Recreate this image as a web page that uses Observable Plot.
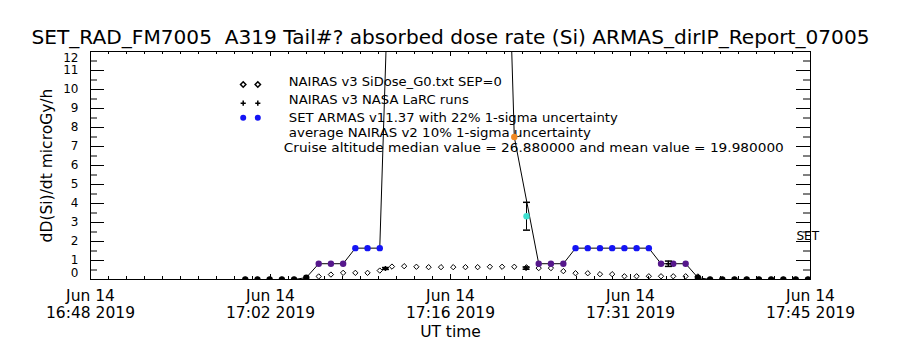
<!DOCTYPE html>
<html><head><meta charset="utf-8">
<script src="https://cdn.jsdelivr.net/npm/d3@7"></script>
<script src="https://cdn.jsdelivr.net/npm/@observablehq/plot@0.6"></script>
<style>
body{margin:0;background:#fff;}
#chart{width:900px;height:350px;}
</style></head><body><div id="chart"></div>
<script>
// ---------- data ----------
const day = "2019-06-14";
const titleText = "SET_RAD_FM7005  A319 Tail#? absorbed dose rate (Si) ARMAS_dirIP_Report_07005";
const yLabel = "dD(Si)/dt microGy/h";
const xLabel = "UT time";
const xDomain = ["16:48:00", "17:45:00"];
const xTickTimes = ["16:48:00", "17:02:15", "17:16:30", "17:30:45", "17:45:00"];
const xTickDates = ["Jun 14", "Jun 14", "Jun 14", "Jun 14", "Jun 14"];
const xTickClock = ["16:48 2019", "17:02 2019", "17:16 2019", "17:31 2019", "17:45 2019"];
const yTicks = [0, 1, 2, 3, 4, 5, 6, 7, 8, 9, 10, 11, 12];
const yTickLabels = ["0", "1", "2", "3", "4", "5", "6", "7", "8", "9", "10", "11", "12"];
const legendLabels = [
  "NAIRAS v3 SiDose_G0.txt SEP=0",
  "NAIRAS v3 NASA LaRC runs",
  "SET ARMAS v11.37 with 22% 1-sigma uncertainty",
  "average NAIRAS v2 10% 1-sigma uncertainty",
  "Cruise altitude median value = 26.880000 and mean value = 19.980000"
];
const sideLabel = "SET";

// one-minute sample times (UT)
const sampleTimes = ["17:00:15","17:01:13","17:02:11","17:03:09","17:04:07","17:05:05","17:06:04","17:07:02","17:08:00","17:08:58","17:09:56","17:10:54","17:11:52","17:12:50","17:13:48","17:14:46","17:15:45","17:16:43","17:17:41","17:18:39","17:19:37","17:20:35","17:21:33","17:22:31","17:23:29","17:24:27","17:25:26","17:26:24","17:27:22","17:28:20","17:29:18","17:30:16","17:31:14","17:32:12","17:33:10","17:34:08","17:35:07","17:36:05","17:37:03","17:38:01","17:38:59","17:39:57","17:40:55","17:41:53","17:42:51","17:43:50","17:44:48"];
// SET ARMAS dose rate (null = not on the connected trace)
const armasValues = [0,0,0,0,0,0.1, 0.83,0.83,0.83, 1.65,1.65,1.65, 22,26.5,27.2,26.9,26.7,27.0,26.88,27.3,26.6,29, 7.5, null, 0.83,0.83,0.83, 1.65,1.65,1.65,1.65,1.65,1.65,1.65, 0.83,0.83,0.83, 0.1, 0,0,0,0,0,0,0,0,0];
// NAIRAS v3 SiDose_G0 (diamonds)
const nairasValues = [0,0,0,0,0,0, 0.16,0.26,0.35,0.35,0.35,0.47, 0.68,0.70,0.67,0.65,0.65,0.65,0.65,0.65,0.67,0.67,0.67, 0.64, 0.6,0.6,0.44,0.33,0.33,0.28,0.28, 0.17,0.17,0.17,0.17,0.17,0.17,0.16, 0,0,0,0,0,0,0,0,0];
// ARMAS point shown with its 22% uncertainty
const armasSpotTimes = ["17:22:31"];
const armasSpotValues = [3.33];
const armasUncertainty = 0.22;
// NAIRAS v3 NASA LaRC runs (plus) with 1-sigma
const larcTimes = ["17:11:21", "17:22:29", "17:33:45"];
const larcValues = [0.58, 0.6, 0.83];
const larcSigma = [0.05, 0.06, 0.14];

// ---------- build ----------
const parse = s => new Date(`${day}T${s}Z`);
const W = 720, H = 228;
const armas = sampleTimes.map((t, i) => ({t: parse(t), v: armasValues[i]})).filter(d => d.v != null);
const nairas = sampleTimes.map((t, i) => ({t: parse(t), v: nairasValues[i]}));
const spot = armasSpotTimes.map((t, i) => ({t: parse(t), v: armasSpotValues[i], lo: armasSpotValues[i] * (1 - armasUncertainty), hi: armasSpotValues[i] * (1 + armasUncertainty)}));
const larc = larcTimes.map((t, i) => ({t: parse(t), v: larcValues[i], lo: larcValues[i] - larcSigma[i], hi: larcValues[i] + larcSigma[i]}));
const xMajor = xTickTimes.map(parse);
const xTicks = xMajor.map((t, i) => ({t, date: xTickDates[i], clock: xTickClock[i]}));
const stepMs = (xMajor[1] - xMajor[0]) / 10;
const xMinor = d3.range(+xMajor[0], +xMajor[xMajor.length - 1] + 1, stepMs).map(v => new Date(v));
const yMinor = d3.range(0.5, 12, 1);
const yT = yTicks.map((v, i) => ({v, label: yTickLabels[i]}));

const hbar = {draw(ctx, size) { const r = Math.sqrt(size / Math.PI); ctx.moveTo(-r, 0); ctx.lineTo(r, 0); }};
const FS = 12;
const YFS = 12;
const T = {fill: "#000", lineAnchor: "middle"};

const chart = Plot.plot({
  width: 900, height: 350,
  marginLeft: 90, marginRight: 90, marginTop: 51, marginBottom: 71,
  style: {fontFamily: "'DejaVu Sans', sans-serif", background: "#fff", color: "#000", overflow: "visible"},
  x: {type: "utc", domain: xDomain.map(parse), axis: null},
  y: {domain: [0, 12], axis: null},
  color: {type: "threshold", domain: [0.5, 1.2, 3, 5], range: ["#000000", "#56188c", "#1414f5", "#3fe0d0", "#f08a24"]},
  marks: [
    // axes ticks (inward)
    Plot.ruleY(yTicks, {y: d => d, insetRight: W - 14, stroke: "#000"}),
    Plot.ruleY(yTicks, {y: d => d, insetLeft: W - 14, stroke: "#000"}),
    Plot.ruleY(yMinor, {y: d => d, insetRight: W - 7, stroke: "#000"}),
    Plot.ruleY(yMinor, {y: d => d, insetLeft: W - 7, stroke: "#000"}),
    Plot.ruleX(xMajor, {x: d => d, insetTop: H - 5, stroke: "#000"}),
    Plot.ruleX(xMajor, {x: d => d, insetBottom: H - 5, stroke: "#000"}),
    Plot.ruleX(xMinor, {x: d => d, insetTop: H - 3, stroke: "#000"}),
    Plot.ruleX(xMinor, {x: d => d, insetBottom: H - 3, stroke: "#000"}),
    Plot.frame({stroke: "#000"}),
    // legend symbols
    Plot.dot([0], {frameAnchor: "top-left", dx: 152.7, dy: 33, symbol: "diamond2", r: 2.4, stroke: "#000", fill: "none"}),
    Plot.dot([0], {frameAnchor: "top-left", dx: 167.3, dy: 33, symbol: "diamond2", r: 2.4, stroke: "#000", fill: "none"}),
    Plot.dot([0], {frameAnchor: "top-left", dx: 152.7, dy: 51.7, symbol: "plus", r: 1.8, stroke: "#000"}),
    Plot.dot([0], {frameAnchor: "top-left", dx: 167.3, dy: 51.7, symbol: "plus", r: 1.8, stroke: "#000"}),
    Plot.dot([0], {frameAnchor: "top-left", dx: 152.7, dy: 66.3, r: 3, fill: "#1414f5", stroke: null}),
    Plot.dot([0], {frameAnchor: "top-left", dx: 167.3, dy: 66.3, r: 3, fill: "#1414f5", stroke: null}),
    // legend texts
    Plot.text([legendLabels[0]], {...T, frameAnchor: "top-left", dx: 198.3, dy: 30.7, textAnchor: "start", fontSize: FS}),
    Plot.text([legendLabels[1]], {...T, frameAnchor: "top-left", dx: 198.3, dy: 48.5, textAnchor: "start", fontSize: FS}),
    Plot.text([legendLabels[2]], {...T, frameAnchor: "top-left", dx: 198.3, dy: 66.3, textAnchor: "start", fontSize: FS}),
    Plot.text([legendLabels[3]], {...T, frameAnchor: "top-left", dx: 198.3, dy: 81.5, textAnchor: "start", fontSize: FS}),
    Plot.text([legendLabels[4]], {...T, frameAnchor: "top-left", dx: 193.3, dy: 96.5, textAnchor: "start", fontSize: FS}),
    Plot.text([sideLabel], {...T, frameAnchor: "top-right", dx: -14, dy: 185, textAnchor: "start", fontSize: 12}),
    // NAIRAS diamonds
    Plot.dot(nairas, {x: "t", y: "v", symbol: "diamond2", r: 2.4, stroke: "#000", strokeWidth: 1, fill: "none", clip: true}),
    // ARMAS trace
    Plot.line(armas, {x: "t", y: "v", stroke: "#000", strokeWidth: 1, clip: true}),
    Plot.dot(armas, {x: "t", y: "v", r: 3.2, fill: "v", stroke: null, clip: true}),
    // ARMAS point with uncertainty
    Plot.ruleX(spot, {x: "t", y1: "lo", y2: "hi", stroke: "#000"}),
    Plot.dot(spot, {x: "t", y: "lo", symbol: hbar, r: 3.5, stroke: "#000"}),
    Plot.dot(spot, {x: "t", y: "hi", symbol: hbar, r: 3.5, stroke: "#000"}),
    Plot.dot(spot, {x: "t", y: "v", r: 3.2, fill: "v", stroke: null}),
    // LaRC runs
    Plot.ruleX(larc, {x: "t", y1: "lo", y2: "hi", stroke: "#000"}),
    Plot.dot(larc, {x: "t", y: "lo", symbol: hbar, r: 3.5, stroke: "#000"}),
    Plot.dot(larc, {x: "t", y: "hi", symbol: hbar, r: 3.5, stroke: "#000"}),
    Plot.dot(larc, {x: "t", y: "v", symbol: "plus", r: 1.8, stroke: "#000"}),
    // y tick labels
    Plot.text(yT.filter(d => d.v > 0 && d.v < 12), {...T, y: "v", text: "label", frameAnchor: "left", dx: -12, textAnchor: "end", fontSize: YFS}),
    Plot.text(yT.filter(d => d.v === 0), {...T, y: "v", text: "label", frameAnchor: "left", dx: -12, dy: -6.5, textAnchor: "end", fontSize: YFS}),
    Plot.text(yT.filter(d => d.v === 12), {...T, y: "v", text: "label", frameAnchor: "left", dx: -12, dy: 6.5, textAnchor: "end", fontSize: YFS}),
    // x tick labels
    Plot.text(xTicks, {...T, x: "t", text: "date", frameAnchor: "bottom", dy: 17, fontSize: 15.5}),
    Plot.text(xTicks, {...T, x: "t", text: "clock", frameAnchor: "bottom", dy: 34, fontSize: 15.5}),
    // axis titles
    Plot.text([xLabel], {...T, frameAnchor: "bottom", dy: 53, fontSize: 15.5}),
    Plot.text([yLabel], {...T, frameAnchor: "left", textAnchor: "middle", dx: -43.5, rotate: -90, fontSize: 15.5}),
    Plot.text([titleText], {...T, frameAnchor: "top", textAnchor: "middle", dy: -14, fontSize: 19})
  ]
});

const fitWidths = new Map([
  [titleText, 838],
  [legendLabels[0], 213],
  [legendLabels[1], 180],
  [legendLabels[2], 329],
  [legendLabels[3], 302],
  [legendLabels[4], 500]
]);
chart.querySelectorAll("text").forEach(el => {
  const w = fitWidths.get(el.textContent);
  if (w) { el.setAttribute("textLength", w); el.setAttribute("lengthAdjust", "spacingAndGlyphs"); }
});
document.getElementById("chart").appendChild(chart);
</script>
</body></html>
